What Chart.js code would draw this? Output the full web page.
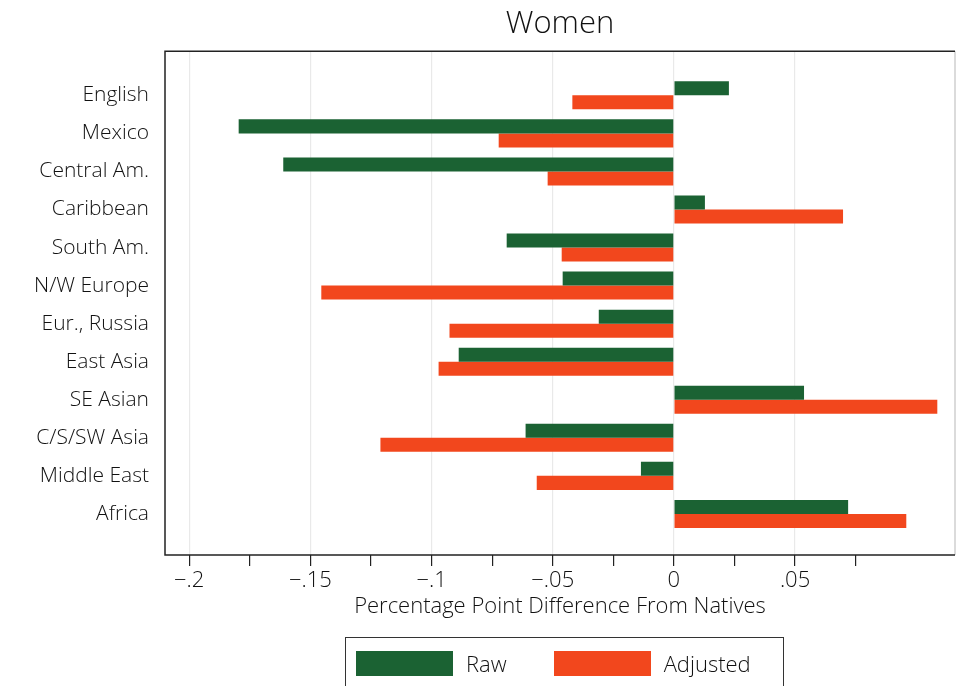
<!DOCTYPE html>
<html>
<head>
<meta charset="utf-8">
<script src="https://cdn.jsdelivr.net/npm/chart.js@4/dist/chart.umd.min.js"></script>
<style>
  html, body { margin: 0; padding: 0; background: #fff; overflow: hidden; }
  #wrap { position: relative; width: 963px; height: 686px; }
  #legend {
    position: absolute; left: 345px; top: 637px; width: 439px; height: 70px;
    border: 1.5px solid #333; box-sizing: border-box;
    display: flex; align-items: flex-start; padding: 10px 0 0 10px;
    font-family: "Open Sans", sans-serif; font-weight: 300; font-size: 22px; color: #111;
  }
  .swatch { width: 97px; height: 25px; }
  .item { display: flex; align-items: center; margin-right: 47px; }
  .item span { margin-left: 13px; }
</style>
</head>
<body>
<div id="wrap">
  <canvas id="chart" width="963" height="686"></canvas>
  <div id="legend"></div>
</div>
<script>
// categories, top to bottom
const regions = ['English', 'Mexico', 'Central Am.', 'Caribbean', 'South Am.', 'N/W Europe',
  'Eur., Russia', 'East Asia', 'SE Asian', 'C/S/SW Asia', 'Middle East', 'Africa'];

// percentage point difference from natives
const rawValues = [0.0227, -0.1796, -0.1612, 0.0128, -0.0690, -0.0459,
  -0.0310, -0.0888, 0.0537, -0.0612, -0.0136, 0.0719];
const adjustedValues = [-0.0419, -0.0723, -0.0521, 0.0698, -0.0463, -0.1455,
  -0.0926, -0.0971, 0.1087, -0.1211, -0.0566, 0.0959];

// x axis ticks (minor ones have no label)
const xTickValues = [-0.2, -0.175, -0.15, -0.125, -0.1, -0.075, -0.05, -0.025, 0, 0.025, 0.05, 0.075];
const xTickLabels = ['\u2212.2', '', '\u2212.15', '', '\u2212.1', '', '\u2212.05', '', '0', '', '.05', ''];

const green = '#1b6233';
const orange = '#f2471d';

Chart.defaults.font.family = '"Open Sans", sans-serif';
Chart.defaults.font.weight = '300';
Chart.defaults.color = '#111';

// box around the plot: black on left/top/bottom, light grey on the right
const frame = {
  id: 'frame',
  afterDatasetsDraw(chart) {
    const { ctx, chartArea: a } = chart;
    ctx.save();
    ctx.lineWidth = 1.5;
    ctx.strokeStyle = '#cfcfcf';
    ctx.beginPath();
    ctx.moveTo(a.right, a.top);
    ctx.lineTo(a.right, a.bottom);
    ctx.stroke();
    ctx.strokeStyle = '#222';
    ctx.beginPath();
    ctx.moveTo(a.right, a.top);
    ctx.lineTo(a.left, a.top);
    ctx.lineTo(a.left, a.bottom);
    ctx.lineTo(a.right, a.bottom);
    ctx.stroke();
    ctx.restore();
  }
};

const chart = new Chart(document.getElementById('chart'), {
  type: 'bar',
  data: {
    datasets: [
      {
        label: 'Raw',
        data: rawValues.map((v, i) => ({ x: v, y: i })),
        backgroundColor: green
      },
      {
        label: 'Adjusted',
        data: adjustedValues.map((v, i) => ({ x: v, y: i })),
        backgroundColor: orange
      }
    ]
  },
  options: {
    indexAxis: 'y',
    responsive: false,
    animation: false,
    categoryPercentage: 0.737,
    barPercentage: 1.0,
    layout: { padding: { left: 0, right: 8, top: 0, bottom: 56 } },
    scales: {
      x: {
        type: 'linear',
        min: -0.21,
        max: 0.116,
        afterBuildTicks: (scale) => { scale.ticks = xTickValues.map(v => ({ value: v })); },
        afterFit: (scale) => { scale.height = 75; },
        ticks: {
          autoSkip: false,
          maxRotation: 0,
          padding: 2,
          font: { size: 22 },
          callback: (v, i) => xTickLabels[i]
        },
        grid: {
          color: (c) => (xTickLabels[c.index] ? '#e9e9e9' : 'rgba(0,0,0,0)'),
          tickColor: '#222',
          tickLength: 11,
          lineWidth: 1.2
        },
        border: { display: false },
        title: {
          display: true,
          text: 'Percentage Point Difference From Natives',
          font: { size: 22 },
          padding: { top: 0, bottom: 10 }
        }
      },
      y: {
        type: 'linear',
        reverse: true,
        offset: false,
        min: -1.16,
        max: 12.08,
        afterBuildTicks: (scale) => { scale.ticks = regions.map((r, i) => ({ value: i })); },
        afterFit: (scale) => { scale.width = 165; },
        ticks: {
          autoSkip: false,
          padding: 16,
          font: { size: 21 },
          callback: (v) => regions[v]
        },
        grid: { display: false, drawTicks: false },
        border: { display: false }
      }
    },
    plugins: {
      legend: { display: false },
      tooltip: { enabled: false },
      title: {
        display: true,
        text: 'Women',
        fullSize: false,
        color: '#111',
        font: { size: 31, weight: '300' },
        padding: { top: 6, bottom: 8 }
      }
    }
  },
  plugins: [frame]
});

// legend built from the datasets
const legendEl = document.getElementById('legend');
chart.data.datasets.forEach(ds => {
  const item = document.createElement('div');
  item.className = 'item';
  const sw = document.createElement('div');
  sw.className = 'swatch';
  sw.style.background = ds.backgroundColor;
  const label = document.createElement('span');
  label.textContent = ds.label;
  item.appendChild(sw);
  item.appendChild(label);
  legendEl.appendChild(item);
});
</script>
</body>
</html>
